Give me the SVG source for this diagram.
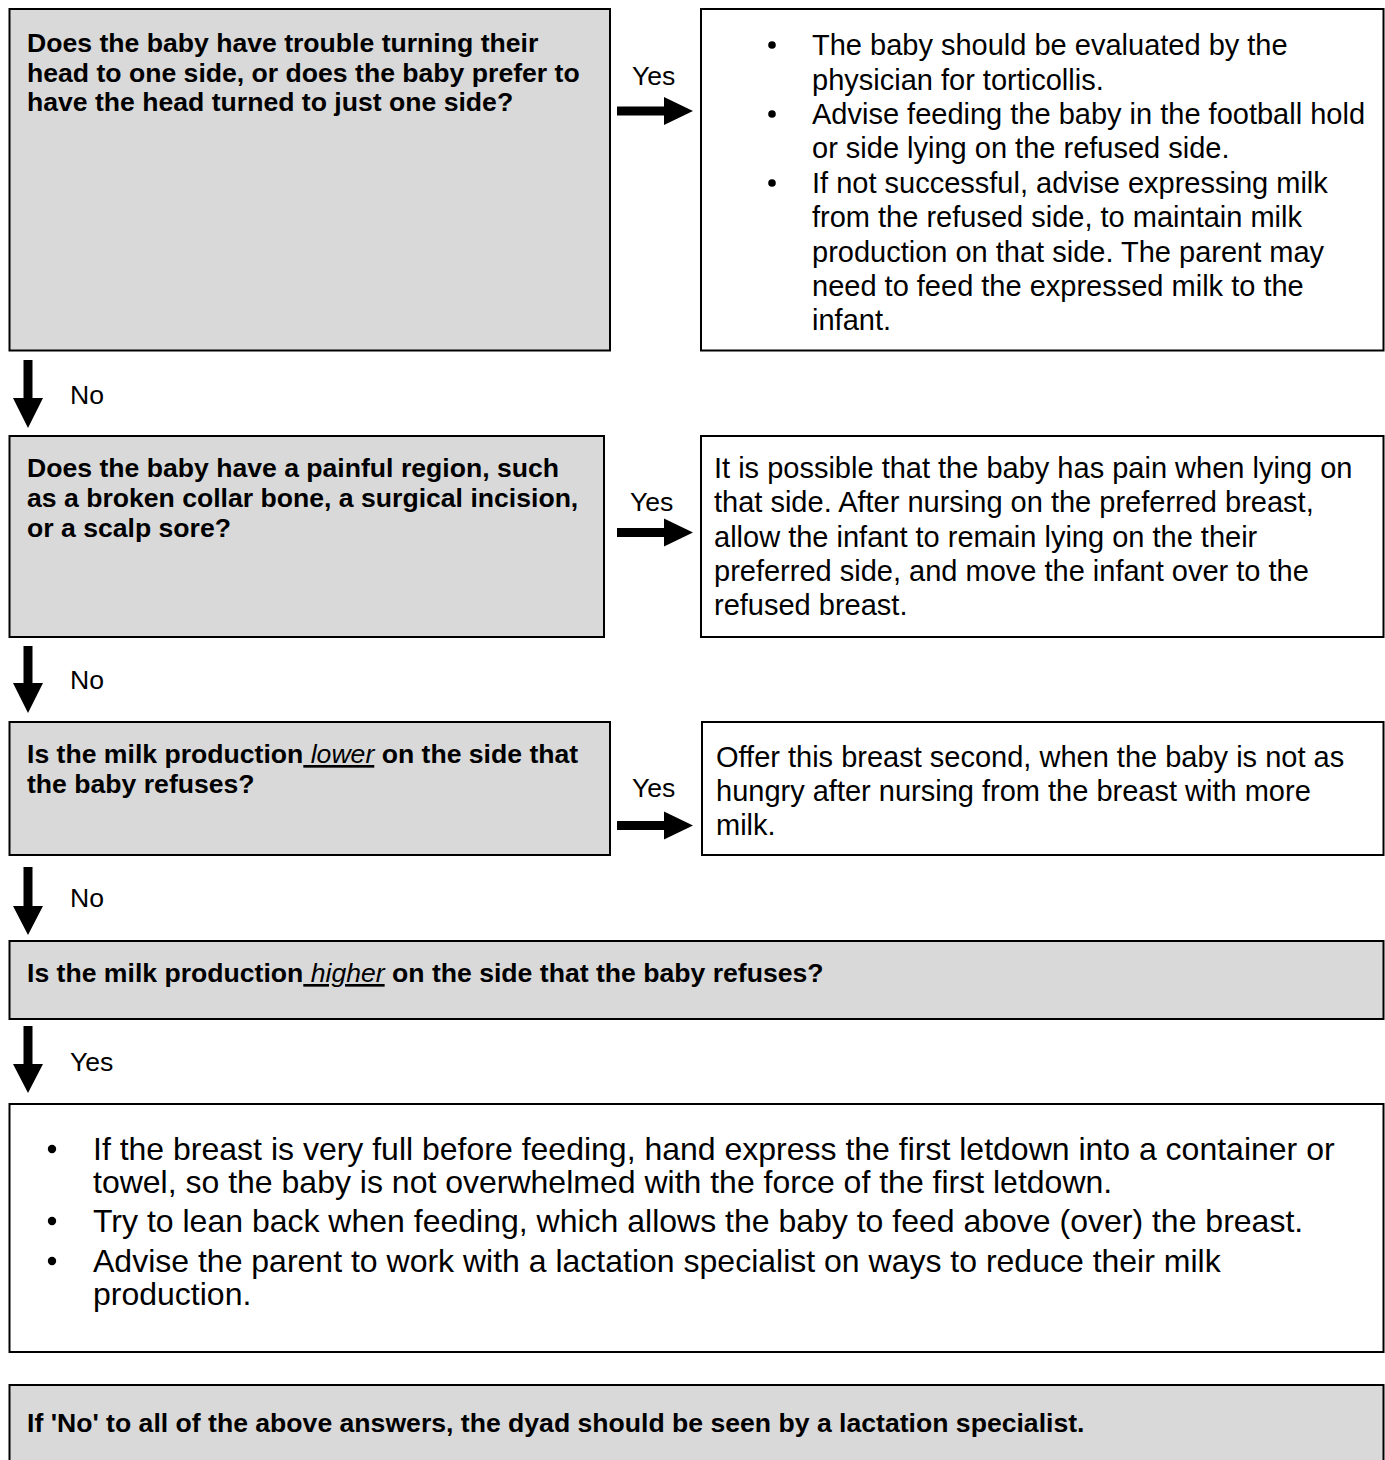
<svg xmlns="http://www.w3.org/2000/svg" width="1385" height="1460" viewBox="0 0 1385 1460">
<style>
.q{fill:#d9d9d9;stroke:#000;stroke-width:2}
.a{fill:#fff;stroke:#000;stroke-width:2}
.bt{font-family:"Liberation Sans",Arial,sans-serif;font-weight:bold;font-size:26.6px;fill:#000}
.rt{font-family:"Liberation Sans",Arial,sans-serif;font-size:29px;fill:#000}
.lt{font-family:"Liberation Sans",Arial,sans-serif;font-size:32px;fill:#000}
.lb{font-family:"Liberation Sans",Arial,sans-serif;font-size:26.6px;fill:#000}
.ul{font-weight:normal;font-style:italic;text-decoration:underline}
.arr{fill:#000}
</style>
<rect width="1385" height="1460" fill="#fff"/>

<g id="q1">
<rect class="q" x="9.5" y="9" width="600.5" height="341.5"/>
<text class="bt" x="27" y="52">Does the baby have trouble turning their</text>
<text class="bt" x="27" y="82">head to one side, or does the baby prefer to</text>
<text class="bt" x="27" y="111">have the head turned to just one side?</text>
</g>

<g id="a1">
<rect class="a" x="701" y="9" width="682.5" height="341.5"/>
<circle cx="772" cy="45" r="3.8"/>
<circle cx="772" cy="114" r="3.8"/>
<circle cx="772" cy="183" r="3.8"/>
<text class="rt" x="812" y="55">The baby should be evaluated by the</text>
<text class="rt" x="812" y="89.5">physician for torticollis.</text>
<text class="rt" x="812" y="124">Advise feeding the baby in the football hold</text>
<text class="rt" x="812" y="158">or side lying on the refused side.</text>
<text class="rt" x="812" y="193">If not successful, advise expressing milk</text>
<text class="rt" x="812" y="227">from the refused side, to maintain milk</text>
<text class="rt" x="812" y="262">production on that side. The parent may</text>
<text class="rt" x="812" y="296">need to feed the expressed milk to the</text>
<text class="rt" x="812" y="330">infant.</text>
</g>

<g id="q2">
<rect class="q" x="9.5" y="436" width="594.5" height="201"/>
<text class="bt" x="27" y="477">Does the baby have a painful region, such</text>
<text class="bt" x="27" y="507">as a broken collar bone, a surgical incision,</text>
<text class="bt" x="27" y="537">or a scalp sore?</text>
</g>

<g id="a2">
<rect class="a" x="701" y="436" width="682.5" height="201"/>
<text class="rt" x="714" y="478">It is possible that the baby has pain when lying on</text>
<text class="rt" x="714" y="512">that side. After nursing on the preferred breast,</text>
<text class="rt" x="714" y="547">allow the infant to remain lying on the their</text>
<text class="rt" x="714" y="581">preferred side, and move the infant over to the</text>
<text class="rt" x="714" y="615">refused breast.</text>
</g>

<g id="q3">
<rect class="q" x="9.5" y="722" width="600.5" height="133"/>
<text class="bt" x="27" y="763">Is the milk production<tspan class="ul"> lower</tspan> on the side that</text>
<text class="bt" x="27" y="793">the baby refuses?</text>
</g>

<g id="a3">
<rect class="a" x="702" y="722" width="681.5" height="133"/>
<text class="rt" x="716" y="767">Offer this breast second, when the baby is not as</text>
<text class="rt" x="716" y="801">hungry after nursing from the breast with more</text>
<text class="rt" x="716" y="835">milk.</text>
</g>

<g id="q4">
<rect class="q" x="9.5" y="941" width="1374" height="78"/>
<text class="bt" x="27" y="982">Is the milk production<tspan class="ul"> higher</tspan> on the side that the baby refuses?</text>
</g>

<g id="a4">
<rect class="a" x="9.5" y="1104" width="1374" height="248"/>
<circle cx="52" cy="1149" r="4.2"/>
<circle cx="52" cy="1221" r="4.2"/>
<circle cx="52" cy="1261" r="4.2"/>
<text class="lt" x="93" y="1160">If the breast is very full before feeding, hand express the first letdown into a container or</text>
<text class="lt" x="93" y="1193">towel, so the baby is not overwhelmed with the force of the first letdown.</text>
<text class="lt" x="93" y="1232">Try to lean back when feeding, which allows the baby to feed above (over) the breast.</text>
<text class="lt" x="93" y="1272">Advise the parent to work with a lactation specialist on ways to reduce their milk</text>
<text class="lt" x="93" y="1305">production.</text>
</g>

<g id="final">
<rect class="q" x="9.5" y="1385" width="1374" height="90"/>
<text class="bt" x="27" y="1432">If 'No' to all of the above answers, the dyad should be seen by a lactation specialist.</text>
</g>

<g id="connectors">
<polygon class="arr" points="617,106.5 664,106.5 664,97 693,111 664,125 664,115.5 617,115.5"/>
<text class="lb" x="632" y="85">Yes</text>
<polygon class="arr" points="617,528 664,528 664,518.5 693,532.5 664,546.5 664,537 617,537"/>
<text class="lb" x="630" y="511">Yes</text>
<polygon class="arr" points="617,821 664,821 664,811.5 693,825.5 664,839.5 664,830 617,830"/>
<text class="lb" x="632" y="797">Yes</text>

<polygon class="arr" points="23.5,360 32.5,360 32.5,398 43,398 28,428 13,398 23.5,398"/>
<text class="lb" x="70" y="404">No</text>
<polygon class="arr" points="23.5,646 32.5,646 32.5,683 43,683 28,713 13,683 23.5,683"/>
<text class="lb" x="70" y="689">No</text>
<polygon class="arr" points="23.5,867 32.5,867 32.5,906 43,906 28,935 13,906 23.5,906"/>
<text class="lb" x="70" y="907">No</text>
<polygon class="arr" points="23.5,1026 32.5,1026 32.5,1064 43,1064 28,1093 13,1064 23.5,1064"/>
<text class="lb" x="70" y="1071">Yes</text>
</g>
</svg>
